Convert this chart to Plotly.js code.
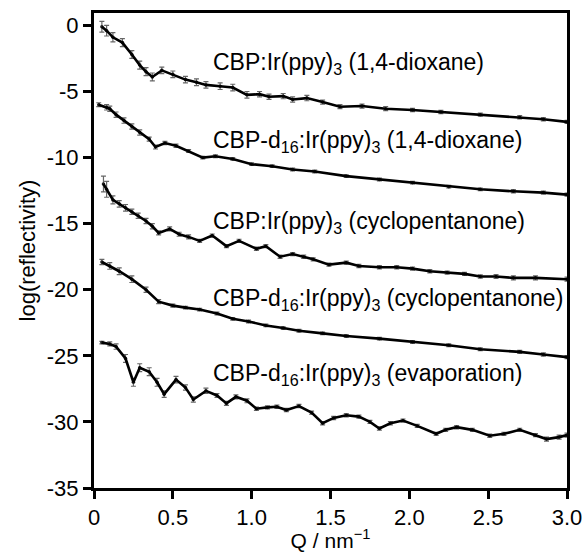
<!DOCTYPE html>
<html>
<head>
<meta charset="utf-8">
<script src="https://cdn.plot.ly/plotly-3.0.1.min.js"></script>
<style>html,body{margin:0;padding:0;background:#fff;}#chart{width:588px;height:552px;}</style>
</head>
<body>
<div id="chart"></div>
<script>
// Series 1: CBP:Ir(ppy)3 (1,4-dioxane)
const q1 = [0.05,0.08,0.12,0.18,0.24,0.29,0.33,0.37,0.43,0.50,0.58,0.65,0.71,0.80,0.88,0.97,1.05,1.11,1.20,1.26,1.35,1.45,1.56,1.70,1.85,2.02,2.20,2.45,2.70,2.85,3.0];
const r1 = [-0.1,-0.4,-0.9,-1.3,-2.2,-3.0,-3.5,-3.9,-3.4,-3.7,-4.1,-4.3,-4.5,-4.6,-4.7,-5.25,-5.2,-5.4,-5.35,-5.6,-5.5,-5.8,-6.15,-6.1,-6.3,-6.4,-6.55,-6.75,-6.95,-7.1,-7.3];
const e1 = [0.4,0.4,0.35,0.3,0.3,0.3,0.3,0.3,0.25,0.25,0.25,0.25,0.25,0.25,0.25,0.25,0.2,0.2,0.2,0.2,0.2,0.15,0.15,0.15,0.15,0.12,0.12,0.12,0.12,0.12,0.12];
// Series 2: CBP-d16:Ir(ppy)3 (1,4-dioxane)
const q2 = [0.03,0.08,0.10,0.14,0.19,0.24,0.29,0.35,0.39,0.45,0.52,0.60,0.69,0.77,0.88,1.00,1.13,1.26,1.40,1.60,1.81,2.02,2.25,2.45,2.66,2.85,3.0];
const r2 = [-6.0,-6.2,-6.3,-6.75,-7.2,-7.65,-8.1,-8.6,-9.2,-8.9,-9.1,-9.5,-10.0,-9.9,-10.1,-10.5,-10.65,-10.9,-11.05,-11.4,-11.66,-11.9,-12.2,-12.4,-12.55,-12.65,-12.8];
const e2 = [0.15,0.2,0.2,0.2,0.2,0.2,0.2,0.15,0.15,0.12,0.12,0.1,0.1,0.1,0.1,0.1,0.1,0.1,0.1,0.1,0.1,0.1,0.1,0.1,0.12,0.12,0.12];
// Series 3: CBP:Ir(ppy)3 (cyclopentanone)
const q3 = [0.06,0.08,0.12,0.16,0.20,0.24,0.28,0.33,0.37,0.41,0.48,0.54,0.60,0.67,0.75,0.84,0.92,1.03,1.09,1.18,1.26,1.33,1.39,1.49,1.60,1.68,1.81,1.92,2.02,2.13,2.24,2.35,2.45,2.55,2.66,2.80,3.0];
const r3 = [-12.0,-12.4,-13.2,-13.5,-13.8,-14.1,-14.4,-14.8,-15.2,-15.7,-15.4,-15.8,-16.0,-16.3,-15.9,-16.7,-16.3,-16.9,-16.7,-17.5,-17.3,-17.5,-17.7,-18.1,-17.95,-18.2,-18.3,-18.3,-18.4,-18.6,-18.7,-18.8,-19.0,-19.0,-19.1,-19.1,-19.2];
const e3 = [0.6,0.6,0.3,0.25,0.25,0.2,0.2,0.2,0.2,0.15,0.15,0.15,0.15,0.12,0.12,0.12,0.12,0.12,0.12,0.12,0.12,0.12,0.12,0.12,0.12,0.12,0.12,0.12,0.12,0.12,0.12,0.12,0.12,0.15,0.15,0.15,0.15];
// Series 4: CBP-d16:Ir(ppy)3 (cyclopentanone)
const q4 = [0.05,0.10,0.16,0.24,0.33,0.41,0.50,0.58,0.67,0.78,0.88,0.98,1.09,1.20,1.30,1.45,1.60,1.81,2.02,2.25,2.45,2.70,2.85,3.0];
const r4 = [-17.9,-18.2,-18.6,-19.2,-20.0,-20.9,-21.2,-21.35,-21.5,-21.8,-22.2,-22.4,-22.7,-22.9,-23.1,-23.3,-23.5,-23.7,-23.95,-24.2,-24.5,-24.7,-24.9,-25.1];
const e4 = [0.2,0.25,0.25,0.25,0.2,0.15,0.12,0.1,0.1,0.1,0.1,0.1,0.1,0.1,0.1,0.1,0.1,0.1,0.1,0.1,0.1,0.12,0.12,0.12];
// Series 5: CBP-d16:Ir(ppy)3 (evaporation)
const q5 = [0.05,0.10,0.14,0.20,0.25,0.29,0.35,0.40,0.445,0.52,0.58,0.63,0.71,0.78,0.84,0.90,0.97,1.03,1.10,1.16,1.22,1.30,1.38,1.45,1.52,1.60,1.68,1.75,1.81,1.88,1.96,2.05,2.17,2.23,2.30,2.40,2.51,2.60,2.70,2.80,2.87,2.95,3.0];
const r5 = [-24.0,-24.1,-24.3,-25.2,-27.0,-25.9,-26.2,-27.0,-27.9,-26.8,-27.4,-28.3,-27.65,-28.0,-28.6,-28.1,-28.4,-29.0,-28.9,-28.85,-29.1,-28.8,-29.3,-30.1,-29.7,-29.5,-29.6,-30.0,-30.5,-30.1,-29.9,-30.3,-30.9,-30.6,-30.4,-30.6,-31.05,-30.9,-30.6,-31.0,-31.3,-31.15,-31.0];
const e5 = [0.1,0.15,0.2,0.3,0.3,0.3,0.3,0.3,0.25,0.25,0.2,0.2,0.2,0.15,0.15,0.15,0.15,0.12,0.12,0.12,0.12,0.12,0.12,0.12,0.12,0.12,0.12,0.12,0.12,0.12,0.12,0.12,0.12,0.12,0.12,0.12,0.12,0.12,0.12,0.12,0.15,0.15,0.15];

const labels = [
  "CBP:Ir(ppy)<sub>3</sub> (1,4-dioxane)",
  "CBP-d<sub>16</sub>:Ir(ppy)<sub>3</sub> (1,4-dioxane)",
  "CBP:Ir(ppy)<sub>3</sub> (cyclopentanone)",
  "CBP-d<sub>16</sub>:Ir(ppy)<sub>3</sub> (cyclopentanone)",
  "CBP-d<sub>16</sub>:Ir(ppy)<sub>3</sub> (evaporation)"
];
const labelQ = [0.74,0.74,0.74,0.74,0.74];
const labelR = [-2.85,-8.8,-14.9,-20.7,-26.4];

const xTickVals = [0,0.5,1.0,1.5,2.0,2.5,3.0];
const xTickText = ["0","0.5","1.0","1.5","2.0","2.5","3.0"];
const yTickVals = [0,-5,-10,-15,-20,-25,-30,-35];
const yTickText = ["0","-5","-10","-15","-20","-25","-30","-35"];

const qs = [q1,q2,q3,q4,q5], rs = [r1,r2,r3,r4,r5], es = [e1,e2,e3,e4,e5];
const traces = [];
for (let i = 0; i < 5; i++) {
  traces.push({
    x: qs[i], y: rs[i], type: 'scatter', mode: 'markers',
    marker: {color: '#222', size: 3.5},
    error_y: {type: 'data', array: es[i], visible: true, color: '#666', thickness: 1.2, width: 2.5},
    showlegend: false, hoverinfo: 'skip'
  });
  traces.push({
    x: qs[i], y: rs[i], type: 'scatter', mode: 'lines',
    line: {color: '#000', width: 2.6},
    showlegend: false, hoverinfo: 'skip'
  });
}

const fam = '"Liberation Sans", Arial, Helvetica, sans-serif';
const font = {family: fam, size: 22, color: '#000'};
const annotations = labels.map((t, i) => ({
  x: labelQ[i], y: labelR[i], xref: 'x', yref: 'y', text: t,
  showarrow: false, xanchor: 'left', yanchor: 'middle',
  font: {family: fam, size: 23, color: '#000'}
}));

const layout = {
  width: 588, height: 552,
  margin: {l: 94, r: 21, t: 13, b: 64},
  paper_bgcolor: '#fff', plot_bgcolor: '#fff',
  font: font,
  xaxis: {
    range: [0, 3.0], tickvals: xTickVals, ticktext: xTickText,
    showline: true, mirror: true, linecolor: '#000', linewidth: 3,
    ticks: 'outside', ticklen: 8, tickwidth: 3, tickcolor: '#000',
    showgrid: false, zeroline: false,
    tickfont: {family: fam, size: 22, color: '#000'},
    title: {text: 'Q / nm<sup>−1</sup>', font: {family: fam, size: 21, color: '#000'}, standoff: 4}
  },
  yaxis: {
    range: [-35, 0.94], tickvals: yTickVals, ticktext: yTickText,
    showline: true, mirror: true, linecolor: '#000', linewidth: 3,
    ticks: 'outside', ticklen: 8, tickwidth: 3, tickcolor: '#000',
    showgrid: false, zeroline: false,
    tickfont: {family: fam, size: 22, color: '#000'},
    title: {text: 'log(reflectivity)', font: {family: fam, size: 22, color: '#000'}, standoff: 6}
  },
  annotations: annotations
};

Plotly.newPlot('chart', traces, layout, {staticPlot: true, displayModeBar: false});
</script>
</body>
</html>
